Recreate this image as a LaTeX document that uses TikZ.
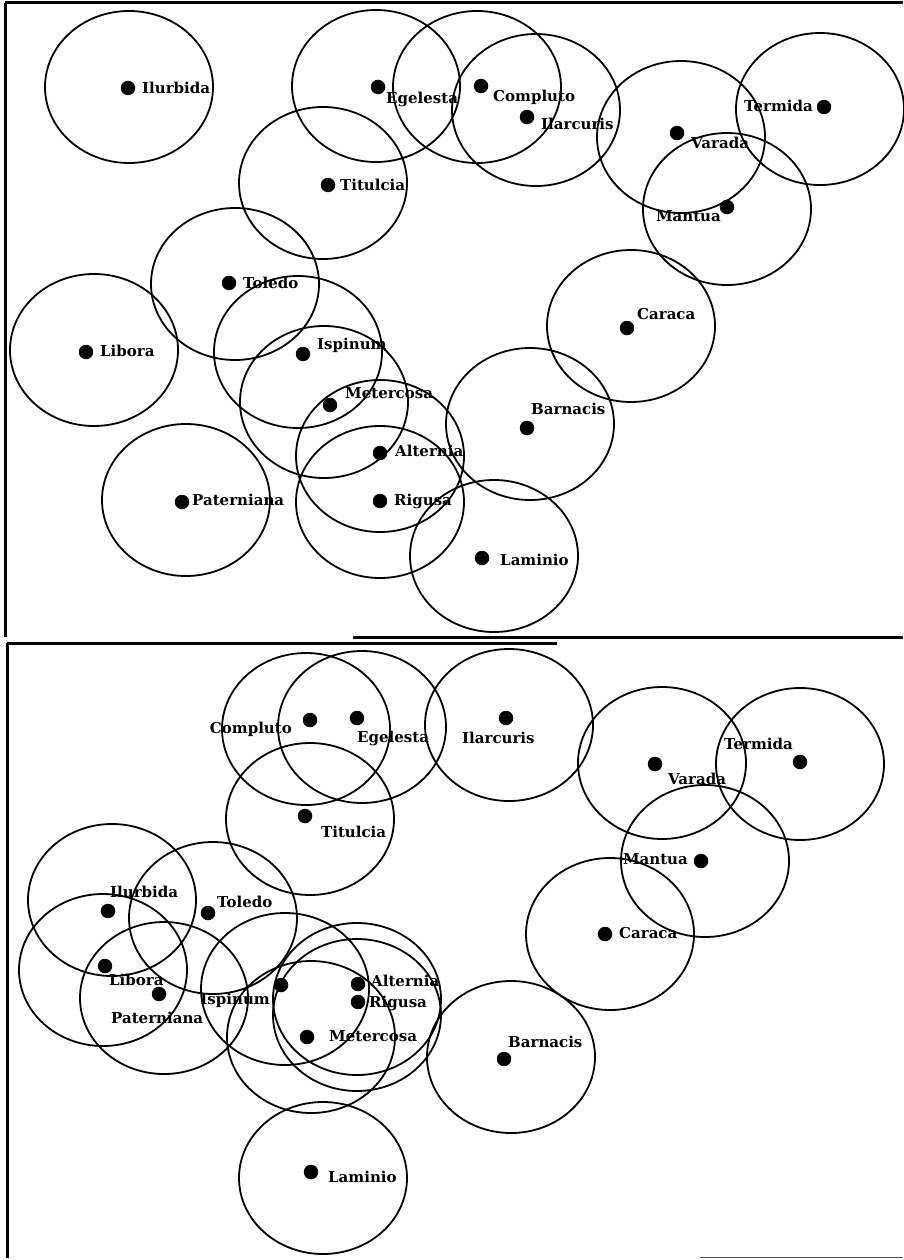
\documentclass[tikz,border=0pt]{standalone}
\usepackage{fontspec}
\setmainfont{DejaVu Serif}
\begin{document}
\begin{tikzpicture}[x=1pt,y=-1pt,
  ring/.style={draw=black,line width=1.8pt},
  dot/.style={circle,fill=black,inner sep=0pt,minimum size=14.5pt},
  lbl/.style={inner sep=0pt,font=\fontsize{15}{17}\selectfont\bfseries,text height=11pt,text depth=3pt},
  frame/.style={draw=black,line width=3pt},
  thinframe/.style={draw=black!70,line width=1pt}]
\useasboundingbox (0,0) rectangle (903,1260);
% frame lines
\coordinate (tl) at (5,3);
\coordinate (tr) at (903,3);
\coordinate (ml) at (5,637);
\coordinate (mA) at (353,637);
\coordinate (mr) at (903,637);
\coordinate (nl) at (7,643);
\coordinate (nr) at (557,643);
\coordinate (bl) at (7,1258);
\coordinate (br1) at (700,1257);
\coordinate (br2) at (903,1257);
\draw[frame] (tl) -- (tr);
\draw[frame] (tl) -- (ml);
\draw[frame] (mA) -- (mr);
\draw[frame] (nl) -- (nr);
\draw[frame] (nl) -- (bl);
\draw[thinframe] (br1) -- (br2);

% ---------- top panel ----------
\draw[ring] (129,87) ellipse [x radius=84pt,y radius=76pt];
\draw[ring] (376,86) ellipse [x radius=84pt,y radius=76pt];
\draw[ring] (477,87) ellipse [x radius=84pt,y radius=76pt];
\draw[ring] (536,110) ellipse [x radius=84pt,y radius=76pt];
\draw[ring] (681,137) ellipse [x radius=84pt,y radius=76pt];
\draw[ring] (820,109) ellipse [x radius=84pt,y radius=76pt];
\draw[ring] (727,209) ellipse [x radius=84pt,y radius=76pt];
\draw[ring] (323,183) ellipse [x radius=84pt,y radius=76pt];
\draw[ring] (235,284) ellipse [x radius=84pt,y radius=76pt];
\draw[ring] (94,350) ellipse [x radius=84pt,y radius=76pt];
\draw[ring] (298,352) ellipse [x radius=84pt,y radius=76pt];
\draw[ring] (324,402) ellipse [x radius=84pt,y radius=76pt];
\draw[ring] (380,456) ellipse [x radius=84pt,y radius=76pt];
\draw[ring] (380,502) ellipse [x radius=84pt,y radius=76pt];
\draw[ring] (186,500) ellipse [x radius=84pt,y radius=76pt];
\draw[ring] (631,326) ellipse [x radius=84pt,y radius=76pt];
\draw[ring] (530,424) ellipse [x radius=84pt,y radius=76pt];
\draw[ring] (494,556) ellipse [x radius=84pt,y radius=76pt];

\node[dot] (t1) at (128,88) {};   \node[lbl,anchor=west] (t1l) at (142,90) {Ilurbida};
\node[dot] (t2) at (378,87) {};   \node[lbl,anchor=west] (t2l) at (386,100) {Egelesta};
\node[dot] (t3) at (481,86) {};   \node[lbl,anchor=west] (t3l) at (493,98) {Compluto};
\node[dot] (t4) at (527,117) {};  \node[lbl,anchor=west] (t4l) at (541,126) {Ilarcuris};
\node[dot] (t5) at (677,133) {};  \node[lbl,anchor=west] (t5l) at (691,145) {Varada};
\node[dot] (t6) at (824,107) {};  \node[lbl,anchor=east] (t6l) at (813,108) {Termida};
\node[dot] (t7) at (727,207) {};  \node[lbl,anchor=east] (t7l) at (721,218) {Mantua};
\node[dot] (t8) at (328,185) {};  \node[lbl,anchor=west] (t8l) at (340,186) {Titulcia};
\node[dot] (t9) at (229,283) {};  \node[lbl,anchor=west] (t9l) at (243,284) {Toledo};
\node[dot] (t10) at (86,352) {};  \node[lbl,anchor=west] (t10l) at (100,352) {Libora};
\node[dot] (t11) at (303,354) {}; \node[lbl,anchor=west] (t11l) at (317,345) {Ispinum};
\node[dot] (t12) at (330,405) {}; \node[lbl,anchor=west] (t12l) at (345,394) {Metercosa};
\node[dot] (t13) at (380,453) {}; \node[lbl,anchor=west] (t13l) at (395,452) {Alternia};
\node[dot] (t14) at (380,501) {}; \node[lbl,anchor=west] (t14l) at (394,501) {Rigusa};
\node[dot] (t15) at (182,502) {}; \node[lbl,anchor=west] (t15l) at (192,501) {Paterniana};
\node[dot] (t16) at (627,328) {}; \node[lbl,anchor=west] (t16l) at (637,315) {Caraca};
\node[dot] (t17) at (527,428) {}; \node[lbl,anchor=west] (t17l) at (531,410) {Barnacis};
\node[dot] (t18) at (482,558) {}; \node[lbl,anchor=west] (t18l) at (500,561) {Laminio};

% ---------- bottom panel ----------
\draw[ring] (306,729) ellipse [x radius=84pt,y radius=76pt];
\draw[ring] (362,727) ellipse [x radius=84pt,y radius=76pt];
\draw[ring] (509,725) ellipse [x radius=84pt,y radius=76pt];
\draw[ring] (310,819) ellipse [x radius=84pt,y radius=76pt];
\draw[ring] (662,763) ellipse [x radius=84pt,y radius=76pt];
\draw[ring] (800,764) ellipse [x radius=84pt,y radius=76pt];
\draw[ring] (705,861) ellipse [x radius=84pt,y radius=76pt];
\draw[ring] (610,934) ellipse [x radius=84pt,y radius=76pt];
\draw[ring] (511,1057) ellipse [x radius=84pt,y radius=76pt];
\draw[ring] (323,1178) ellipse [x radius=84pt,y radius=76pt];
\draw[ring] (112,900) ellipse [x radius=84pt,y radius=76pt];
\draw[ring] (103,970) ellipse [x radius=84pt,y radius=76pt];
\draw[ring] (164,998) ellipse [x radius=84pt,y radius=76pt];
\draw[ring] (213,918) ellipse [x radius=84pt,y radius=76pt];
\draw[ring] (285,989) ellipse [x radius=84pt,y radius=76pt];
\draw[ring] (311,1037) ellipse [x radius=84pt,y radius=76pt];
\draw[ring] (357,999) ellipse [x radius=84pt,y radius=76pt];
\draw[ring] (357,1015) ellipse [x radius=84pt,y radius=76pt];

\node[dot] (b1) at (310,720) {};  \node[lbl,anchor=east] (b1l) at (292,729) {Compluto};
\node[dot] (b2) at (357,718) {};  \node[lbl,anchor=west] (b2l) at (357,738) {Egelesta};
\node[dot] (b3) at (506,718) {};  \node[lbl,anchor=west] (b3l) at (462,739) {Ilarcuris};
\node[dot] (b4) at (655,764) {};  \node[lbl,anchor=west] (b4l) at (668,780) {Varada};
\node[dot] (b5) at (800,762) {};  \node[lbl,anchor=west] (b5l) at (724,745) {Termida};
\node[dot] (b6) at (701,861) {};  \node[lbl,anchor=east] (b6l) at (688,860) {Mantua};
\node[dot] (b7) at (605,934) {};  \node[lbl,anchor=west] (b7l) at (619,934) {Caraca};
\node[dot] (b8) at (305,816) {};  \node[lbl,anchor=west] (b8l) at (321,833) {Titulcia};
\node[dot] (b9) at (108,911) {};  \node[lbl,anchor=west] (b9l) at (110,893) {Ilurbida};
\node[dot] (b10) at (208,913) {}; \node[lbl,anchor=west] (b10l) at (217,903) {Toledo};
\node[dot] (b11) at (105,966) {}; \node[lbl,anchor=west] (b11l) at (109,981) {Libora};
\node[dot] (b12) at (159,994) {}; \node[lbl,anchor=west] (b12l) at (111,1019) {Paterniana};
\node[dot] (b13) at (281,985) {}; \node[lbl,anchor=east] (b13l) at (270,1000) {Ispinum};
\node[dot] (b14) at (358,984) {}; \node[lbl,anchor=west] (b14l) at (371,982) {Alternia};
\node[dot] (b15) at (358,1002) {};\node[lbl,anchor=west] (b15l) at (369,1003) {Rigusa};
\node[dot] (b16) at (307,1037) {};\node[lbl,anchor=west] (b16l) at (329,1037) {Metercosa};
\node[dot] (b17) at (311,1172) {};\node[lbl,anchor=west] (b17l) at (328,1178) {Laminio};
\node[dot] (b18) at (504,1059) {};\node[lbl,anchor=west] (b18l) at (508,1043) {Barnacis};
\end{tikzpicture}
\end{document}
